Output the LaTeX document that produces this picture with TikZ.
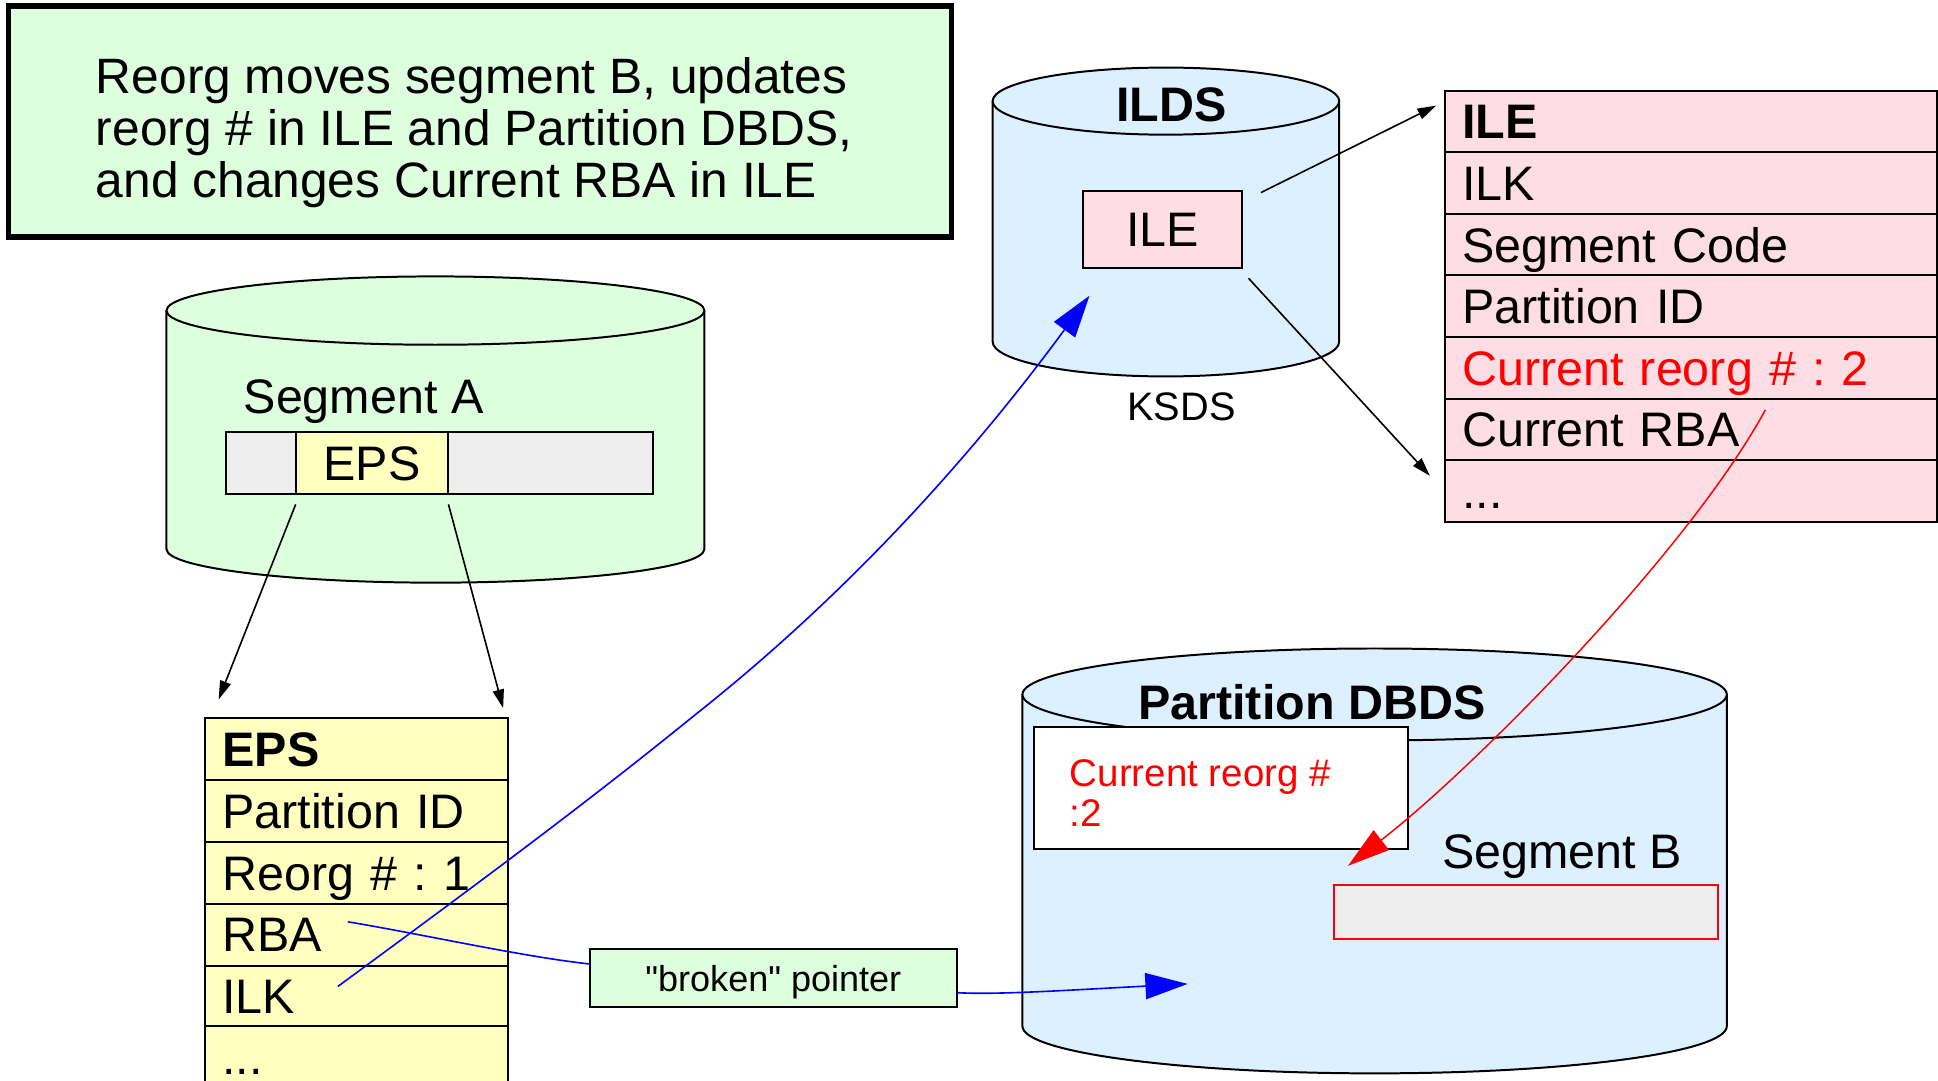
\documentclass[tikz,border=0pt]{standalone}
\usepackage{fontspec}
\setmainfont{Liberation Sans}
\usetikzlibrary{arrows.meta}
\definecolor{gfill}{HTML}{DDFFDD}
\definecolor{yfill}{HTML}{FFFFC0}
\definecolor{pfill}{HTML}{FFDDE4}
\definecolor{bfill}{HTML}{DDF0FF}
\definecolor{grayfill}{HTML}{EEEEEE}
\definecolor{myblue}{HTML}{0000FF}
\definecolor{myred}{HTML}{FF0000}
\frenchspacing
\tikzset{
  big/.style={font=\fontsize{39}{42}\selectfont},
  bigb/.style={font=\fontsize{39}{42}\selectfont\bfseries},
  rowbase/.style={draw=black, line width=1.6pt, inner xsep=14pt, inner ysep=0pt,
    align=left, text height=28pt, text depth=0pt, big},
  epsrow/.style={rowbase, fill=yfill, text width=216pt, minimum height=49.8pt},
  ilerow/.style={rowbase, fill=pfill, text width=368pt, minimum height=49.57pt},
  cell/.style={draw=black, line width=1.6pt, minimum height=50pt, inner sep=0pt, big},
  blk/.style={draw=black, line width=1.3pt, -{Triangle[length=15pt,width=9pt]}},
  bluearr/.style={draw=myblue, line width=1.3pt, -{Triangle[length=34pt,width=21pt]}},
  redarr/.style={draw=myred, line width=1.2pt, -{Triangle[length=34pt,width=20pt]}},
  cyl/.style={draw=black, line width=1.6pt},
}
\begin{document}
\begin{tikzpicture}[x=1pt,y=-1pt]
\useasboundingbox (0,0) rectangle (1560,870);
\clip (0,0) rectangle (1560,870);

% note box
\node[draw=black, line width=4.5pt, fill=gfill, minimum width=759pt, minimum height=186pt, inner sep=0pt] (note) at (386.5,98) {};
\node[anchor=north west, inner sep=0pt, align=left, font=\fontsize{40}{42}\selectfont] (notetxt) at (77,46)
  {Reorg moves segment B, updates\\reorg \# in ILE and Partition DBDS,\\and changes Current RBA in ILE};

% cylinder A
\fill[gfill] (134,250) -- (134,442) arc[start angle=180,end angle=360,x radius=216.5pt,y radius=27pt] -- (567,250) -- cycle;
\draw[cyl] (134,250) -- (134,442) arc[start angle=180,end angle=360,x radius=216.5pt,y radius=27pt] -- (567,250);
\draw[cyl, fill=gfill] (350.5,250) ellipse[x radius=216.5pt, y radius=27.5pt];
\node[anchor=base west, inner sep=0pt, big] (sega) at (196,333) {Segment A};
\node[cell, fill=grayfill, minimum width=56pt] (segl) at (210,373) {};
\node[cell, fill=yfill, minimum width=123pt] (sege) at (299.5,373) {EPS};
\node[cell, fill=grayfill, minimum width=165pt] (segr) at (443.5,373) {};

% EPS table
\node[epsrow] (e0) at (287,602.9) {\textbf{EPS}};
\node[epsrow] (e1) at (287,652.7) {Partition ID};
\node[epsrow] (e2) at (287,702.5) {Reorg \# : 1};
\node[epsrow] (e3) at (287,752.3) {RBA};
\node[epsrow] (e4) at (287,802.1) {ILK};
\node[epsrow] (e5) at (287,850.9) {...};

\coordinate (a1s) at (238,406);
\coordinate (a1e) at (176,563);
\coordinate (a2s) at (361,406);
\coordinate (a2e) at (405,570);
\draw[blk] (a1s) -- (a1e);
\draw[blk] (a2s) -- (a2e);

% ILDS cylinder
\fill[bfill] (799,81.4) -- (799,275) arc[start angle=180,end angle=360,x radius=139.5pt,y radius=28pt] -- (1078,81.4) -- cycle;
\draw[cyl] (799,81.4) -- (799,275) arc[start angle=180,end angle=360,x radius=139.5pt,y radius=28pt] -- (1078,81.4);
\draw[cyl, fill=bfill] (938.5,81.4) ellipse[x radius=139.5pt, y radius=27pt];
\node[anchor=base, inner sep=0pt, bigb] (ilds) at (943,98) {ILDS};
\node[draw=black, line width=1.6pt, fill=pfill, minimum width=128pt, minimum height=62pt, big] (ilebox) at (936,185) {ILE};
\node[anchor=base, inner sep=0pt, font=\fontsize{32}{36}\selectfont] (ksds) at (951,338.5) {KSDS};

% ILE table
\node[ilerow] (i0) at (1361,97.8) {\textbf{ILE}};
\node[ilerow] (i1) at (1361,147.4) {ILK};
\node[ilerow] (i2) at (1361,197.0) {Segment Code};
\node[ilerow] (i3) at (1361,246.5) {Partition ID};
\node[ilerow, text=myred] (i4) at (1361,296.1) {Current reorg \# : 2};
\node[ilerow] (i5) at (1361,345.7) {Current RBA};
\node[ilerow] (i6) at (1361,395.3) {...};

\coordinate (b1s) at (1015,155);
\coordinate (b1e) at (1156,85);
\coordinate (b2s) at (1005,224);
\coordinate (b2e) at (1151,383);
\draw[blk] (b1s) -- (b1e);
\draw[blk] (b2s) -- (b2e);

% Partition DBDS cylinder
\fill[bfill] (823,559) -- (823,826) arc[start angle=180,end angle=360,x radius=283.5pt,y radius=38pt] -- (1390,559) -- cycle;
\draw[cyl] (823,559) -- (823,826) arc[start angle=180,end angle=360,x radius=283.5pt,y radius=38pt] -- (1390,559);
\draw[cyl, fill=bfill] (1106.5,559) ellipse[x radius=283.5pt, y radius=37pt];
\node[anchor=base, inner sep=0pt, bigb] (pdbds) at (1056,579) {Partition DBDS};
\node[draw=black, line width=1.6pt, fill=white, minimum width=301pt, minimum height=98pt, inner sep=0pt] (crbox) at (983,634) {};
\node[anchor=base west, inner sep=0pt, text=myred, font=\fontsize{31}{33}\selectfont] (cr1) at (861,633) {Current reorg \#};
\node[anchor=base west, inner sep=0pt, text=myred, font=\fontsize{31}{33}\selectfont] (cr2) at (861,665) {:2};
\node[anchor=base, inner sep=0pt, big] (segb) at (1257.5,699) {Segment B};
\node[draw=myred, line width=1.6pt, fill=grayfill, minimum width=309pt, minimum height=44pt, inner sep=0pt] (segbbox) at (1228.5,734) {};

% broken pointer
\node[draw=black, line width=1.6pt, fill=gfill, minimum width=295pt, minimum height=47pt, inner sep=0pt] (brk) at (622.5,787) {};
\node[anchor=base, inner sep=0pt, font=\fontsize{29}{32}\selectfont] (brktxt) at (622.5,798) {\textquotedbl broken\textquotedbl{} pointer};

% blue connectors
\coordinate (ilkp) at (272,794);
\coordinate (ilep) at (877,238);
\draw[bluearr] (ilkp) .. controls (400,700) and (480,640) .. (560,575) .. controls (680,480) and (780,370) .. (ilep);
\coordinate (rbap) at (280,742);
\coordinate (brkin) at (475,776);
\draw[draw=myblue, line width=1.3pt] (rbap) .. controls (340,752) and (420,770) .. (brkin);
\coordinate (brkout) at (770,799);
\coordinate (dbdsp) at (956,792);
\draw[bluearr] (brkout) .. controls (800,801) and (860,797) .. (dbdsp);

% red connector
\coordinate (rbacur) at (1421,330);
\coordinate (segbp) at (1085,697);
\draw[redarr] (rbacur) .. controls (1359,444) and (1187,618) .. (segbp);
\end{tikzpicture}
\end{document}
